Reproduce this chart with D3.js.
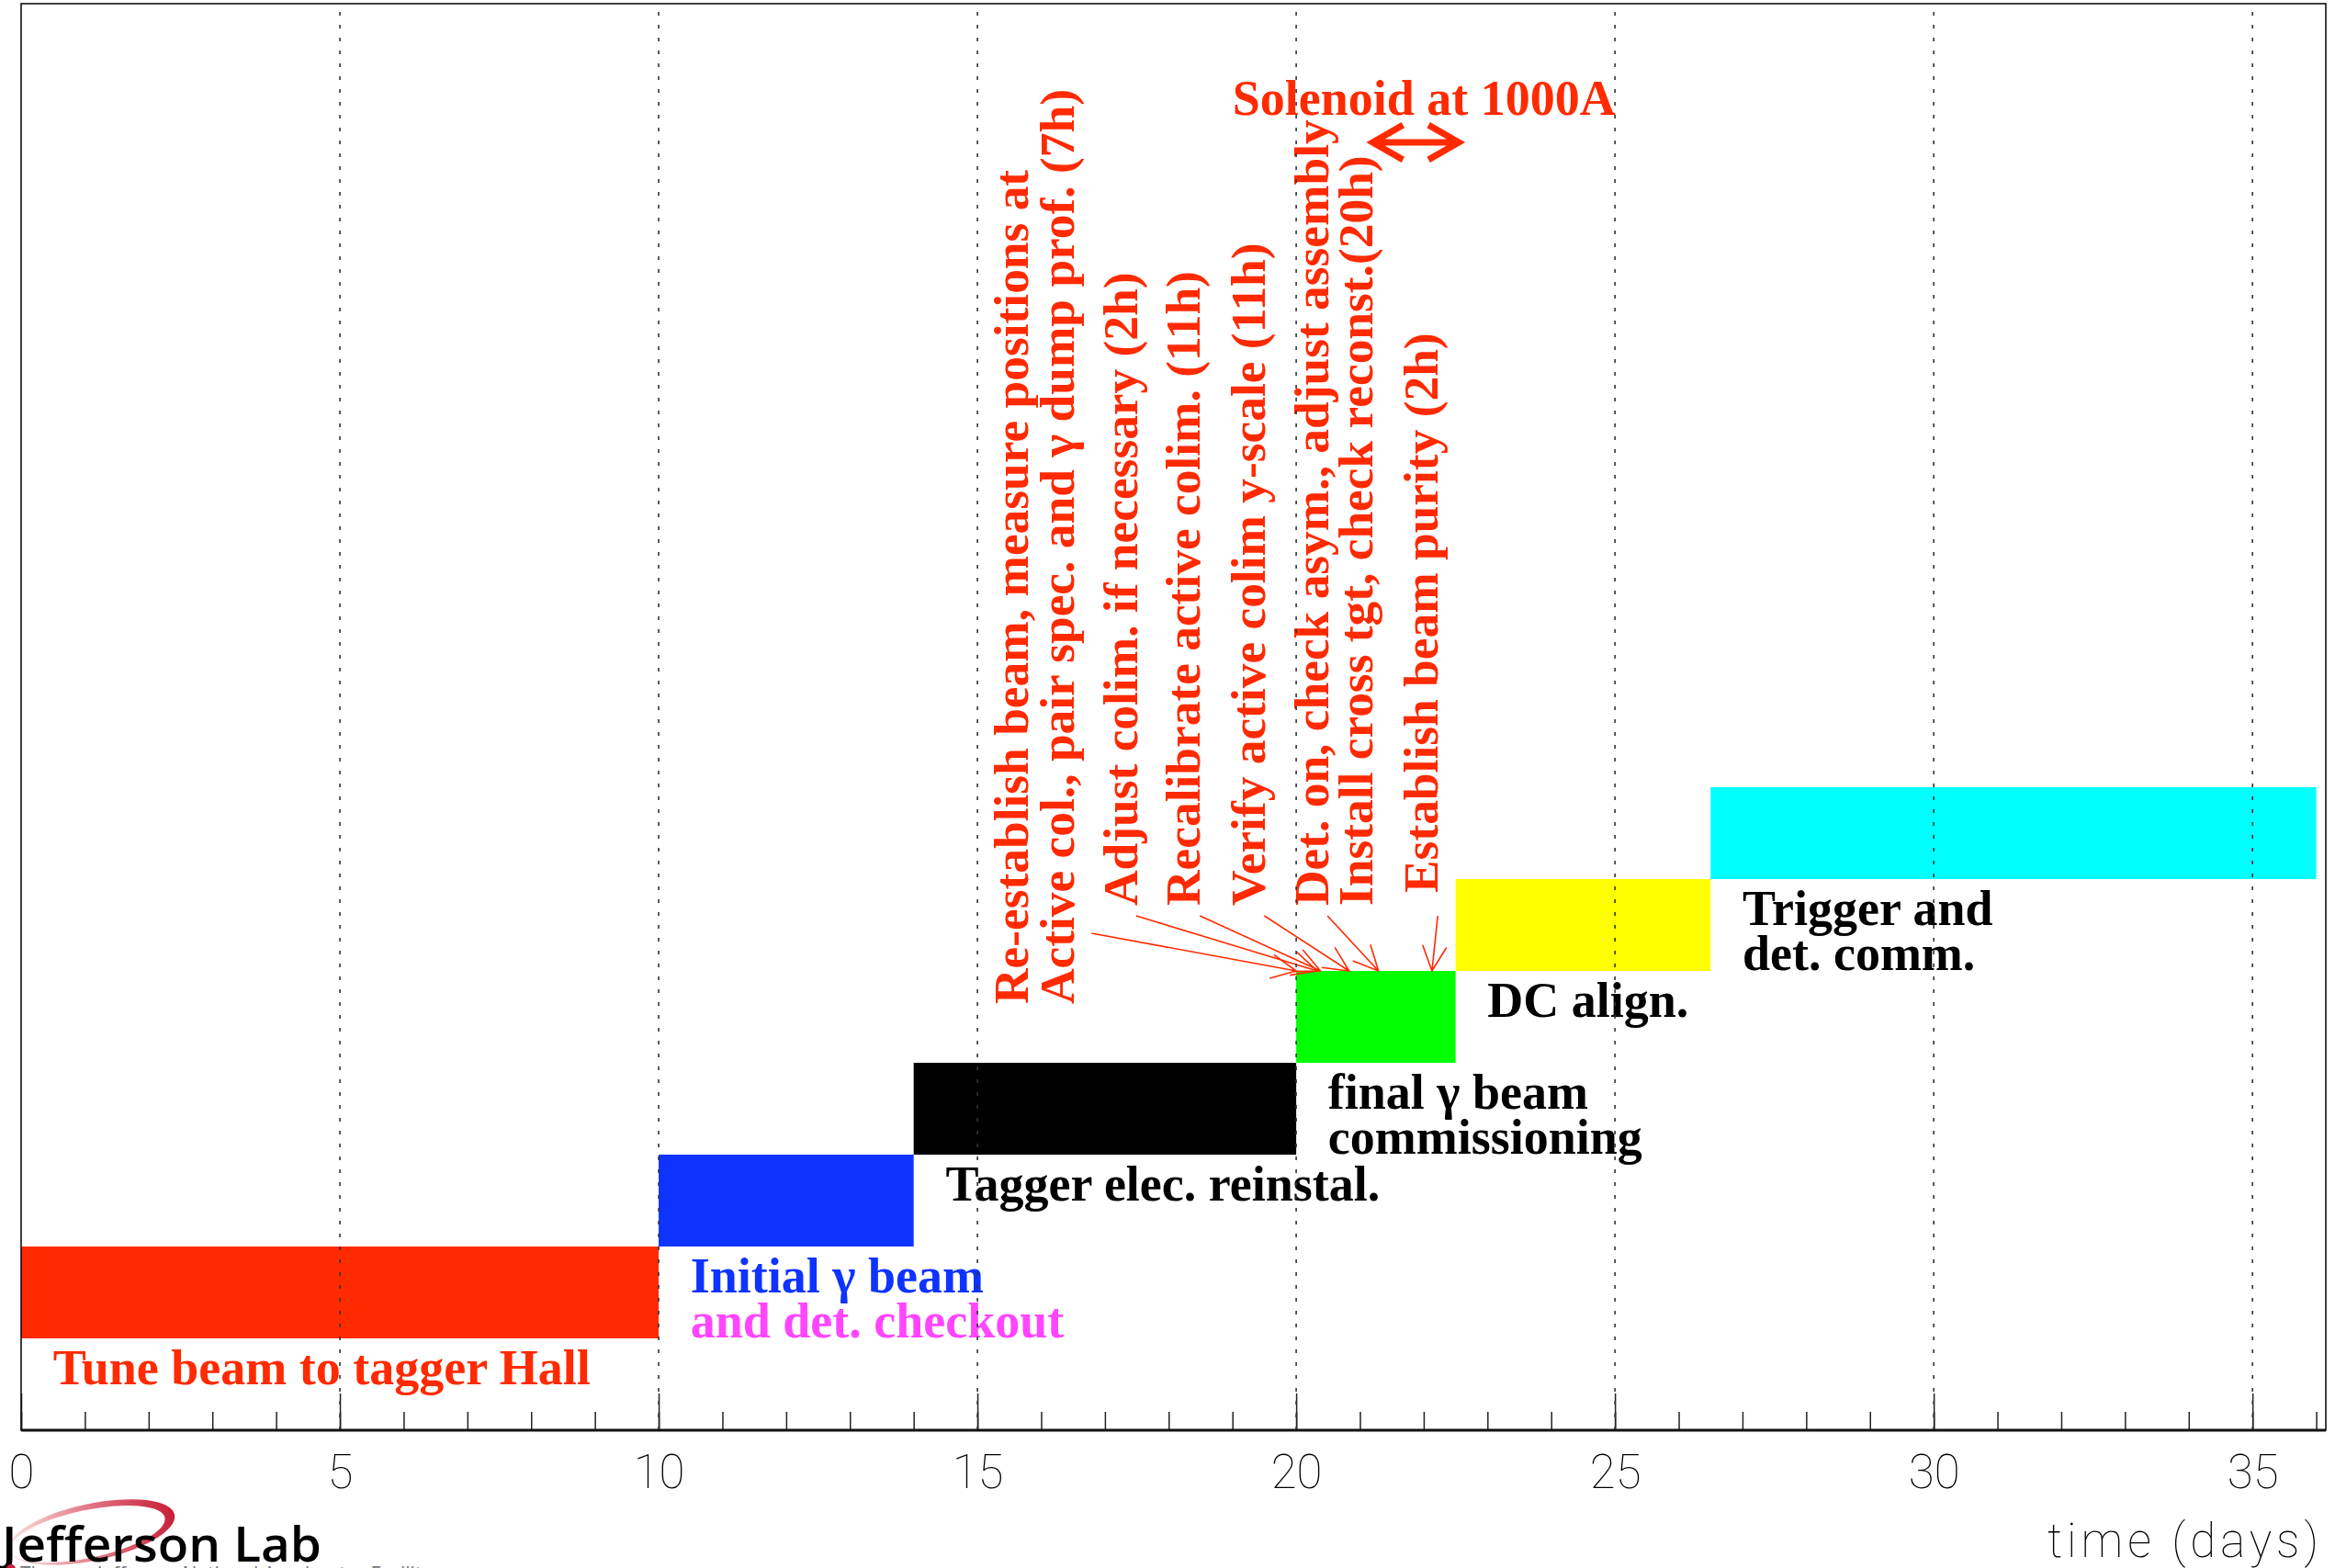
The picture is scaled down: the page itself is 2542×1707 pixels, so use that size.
<!DOCTYPE html>
<html>
<head>
<meta charset="utf-8">
<script src="https://cdn.jsdelivr.net/npm/d3@7"></script>
<style>
  body { margin: 0; background: #fff; }
  svg { display: block; }
</style>
</head>
<body>
<div id="chart"></div>
<script>
// schedule phases (days, row)
const phaseStart = [0, 10, 14, 20, 22.5, 26.5];
const phaseEnd = [10, 14, 20, 22.5, 26.5, 36];
const phaseRow = [1, 2, 3, 4, 5, 6];
const phaseLabels = [
  ["Tune beam to tagger Hall"],
  ["Initial γ beam", "and det. checkout"],
  ["Tagger elec. reinstal."],
  ["final γ beam", "commissioning"],
  ["DC align."],
  ["Trigger and", "det. comm."]
];

// vertical task notes inside the green phase
const taskLines = [
  "Re-establish beam, measure positions at",
  "Active col., pair spec. and γ dump prof. (7h)",
  "Adjust colim. if necessary (2h)",
  "Recalibrate active colim. (11h)",
  "Verify active colim y-scale (11h)",
  "Det. on, check asym., adjust assembly",
  "Install cross tgt, check reconst.(20h)",
  "Establish beam purity (2h)"
];
const taskLineX = [15.79, 16.51, 17.51, 18.49, 19.51, 20.50, 21.20, 22.22];
const taskLineY = [4.64, 4.64, 5.71, 5.71, 5.71, 5.71, 5.71, 5.85];

// arrows from the notes to the green bar
const arrowFromX = [16.79, 17.49, 18.49, 19.50, 20.49, 22.22];
const arrowFromY = [5.41, 5.60, 5.60, 5.60, 5.60, 5.60];
const arrowToX = [20.0, 20.33, 20.38, 20.83, 21.29, 22.13];
const arrowToY = [5, 5, 5, 5, 5, 5];

// solenoid note
const solenoidText = "Solenoid at 1000A";
const solenoidFrom = 21.2;
const solenoidTo = 22.55;

const majorTicks = [0, 5, 10, 15, 20, 25, 30, 35];
const minorTicks = d3.range(0, 37);
const xTitle = "time (days)";

// styles
const RED = "#ff2a00";
const phaseColors = [RED, "#0f33ff", "#000000", "#00ff00", "#ffff00", "#00ffff"];
const labelColors = [[RED], ["#0f33ff", "#ff45ff"], ["#000"], ["#000", "#000"], ["#000"], ["#000", "#000"]];

const W = 2542, H = 1707;
const m = { left: 23, right: 2532, top: 4, bottom: 1557 };

const svg = d3.select("#chart").append("svg")
  .attr("width", W).attr("height", H);
svg.append("rect").attr("width", W).attr("height", H).attr("fill", "#fff");

const x = d3.scaleLinear().domain([0, 36.15]).range([m.left, m.right]);
const y = d3.scaleLinear().domain([0, 15.53]).range([m.bottom, m.top]);

const serif = "'Liberation Serif', 'Times New Roman', serif";
const thin = "Roboto, 'DejaVu Sans', sans-serif";
const fs = "54px";

// bars
svg.append("g").selectAll("rect")
  .data(phaseStart)
  .join("rect")
  .attr("x", (d) => x(d))
  .attr("width", (d, i) => x(phaseEnd[i]) - x(d))
  .attr("y", (d, i) => y(phaseRow[i] + 1))
  .attr("height", (d, i) => y(phaseRow[i]) - y(phaseRow[i] + 1))
  .attr("fill", (d, i) => phaseColors[i]);

// phase labels
const lab = svg.append("g")
  .style("font-family", serif).style("font-weight", "bold").style("font-size", fs);
phaseLabels.forEach((lines, i) => {
  lines.forEach((t, j) => {
    lab.append("text")
      .attr("x", x(phaseStart[i] + 0.5))
      .attr("y", y(phaseRow[i] - 0.5 - 0.49 * j))
      .attr("fill", labelColors[i][j])
      .text(t);
  });
});

// rotated task notes
const notes = svg.append("g")
  .style("font-family", serif).style("font-weight", "bold").style("font-size", "53.4px")
  .attr("fill", RED);
taskLines.forEach((t, i) => {
  notes.append("text")
    .attr("transform", `translate(${x(taskLineX[i])},${y(taskLineY[i])}) rotate(-90)`)
    .text(t);
});

// arrows
const arrowHead = (x1, y1, x2, y2, len, ang) => {
  const a = Math.atan2(y2 - y1, x2 - x1);
  const p1 = [x2 - len * Math.cos(a - ang), y2 - len * Math.sin(a - ang)];
  const p2 = [x2 - len * Math.cos(a + ang), y2 - len * Math.sin(a + ang)];
  return `M${p1[0]},${p1[1]}L${x2},${y2}L${p2[0]},${p2[1]}`;
};
const arr = svg.append("g").attr("stroke", RED).attr("stroke-width", 1.6).attr("fill", "none");
arrowFromX.forEach((fx, i) => {
  const x1 = x(fx), y1 = y(arrowFromY[i]), x2 = x(arrowToX[i]), y2 = y(arrowToY[i]);
  arr.append("path")
    .attr("d", `M${x1},${y1}L${x2},${y2}` + arrowHead(x1, y1, x2, y2, 30, 0.45));
});

// solenoid
svg.append("text")
  .attr("x", x(19.0)).attr("y", y(14.32))
  .style("font-family", serif).style("font-weight", "bold").style("font-size", fs)
  .attr("fill", RED)
  .text(solenoidText);
{
  const x1 = x(solenoidFrom), x2 = x(solenoidTo), yy = y(14.02);
  svg.append("path")
    .attr("d", `M${x1 + 3},${yy}L${x2 - 3},${yy}` + arrowHead(x1, yy, x2, yy, 38, 0.52) + arrowHead(x2, yy, x1, yy, 38, 0.52))
    .attr("stroke", RED).attr("stroke-width", 7).attr("fill", "none")
    .attr("stroke-linejoin", "miter").attr("stroke-miterlimit", 6);
}

// axis: major and minor ticks pointing up
const axMinor = d3.axisBottom(x).tickValues(minorTicks).tickSizeInner(-20).tickSizeOuter(0).tickFormat("");
const axMajor = d3.axisBottom(x).tickValues(majorTicks).tickSizeInner(-40).tickSizeOuter(0).tickPadding(27);
const gMin = svg.append("g").attr("transform", `translate(0,${m.bottom})`).call(axMinor);
gMin.select(".domain").remove();
gMin.selectAll("line").attr("stroke", "#222").attr("stroke-width", 1.5);
const gMaj = svg.append("g").attr("transform", `translate(0,${m.bottom})`).call(axMajor);
gMaj.select(".domain").remove();
gMaj.selectAll("line").attr("stroke", "#222").attr("stroke-width", 1.5);
gMaj.selectAll("text")
  .style("font-family", thin).style("font-weight", 100).style("font-size", "51px")
  .attr("fill", "#000");

// grid lines on top
svg.append("g").selectAll("line")
  .data(majorTicks.filter((d) => d > 0))
  .join("line")
  .attr("x1", (d) => x(d)).attr("x2", (d) => x(d))
  .attr("y1", y(0)).attr("y2", m.top)
  .attr("stroke", "#333").attr("stroke-width", 1.6).attr("stroke-dasharray", "4 10");

// frame
svg.append("rect")
  .attr("x", m.left).attr("y", m.top).attr("width", m.right - m.left).attr("height", m.bottom - m.top)
  .attr("fill", "none").attr("stroke", "#111").attr("stroke-width", 1.6);
svg.append("line")
  .attr("x1", m.left).attr("x2", m.right).attr("y1", m.bottom).attr("y2", m.bottom)
  .attr("stroke", "#111").attr("stroke-width", 3);

// axis title
svg.append("text")
  .attr("x", 2529).attr("y", 1695).attr("text-anchor", "end")
  .style("font-family", thin).style("font-weight", 100).style("font-size", "51px")
  .style("letter-spacing", "5px")
  .text(xTitle);

// lab logo
const defs = svg.append("defs");
const grad = defs.append("linearGradient").attr("id", "swoosh").attr("x1", "0").attr("x2", "1");
grad.append("stop").attr("offset", "0").attr("stop-color", "#fbe6e4");
grad.append("stop").attr("offset", "0.55").attr("stop-color", "#e07080");
grad.append("stop").attr("offset", "1").attr("stop-color", "#c81e38");
const ell = (cx, cy, rx, ry) =>
  `M${cx - rx},${cy}A${rx},${ry} 0 1,0 ${cx + rx},${cy}A${rx},${ry} 0 1,0 ${cx - rx},${cy}Z`;
svg.append("path")
  .attr("d", ell(100, 1668, 92, 31) + ell(95, 1669, 86, 26))
  .attr("fill-rule", "evenodd")
  .attr("fill", "url(#swoosh)")
  .attr("transform", "rotate(-12,100,1668)");
svg.append("text")
  .attr("x", 2).attr("y", 1700)
  .attr("textLength", 348).attr("lengthAdjust", "spacingAndGlyphs")
  .style("font-family", "'Open Sans', sans-serif").style("font-weight", 600).style("font-size", "53px")
  .attr("fill", "#000")
  .text("Jefferson Lab");
svg.append("circle").attr("cx", 12).attr("cy", 1708).attr("r", 5).attr("fill", "#c8203a");
svg.append("text")
  .attr("x", 22).attr("y", 1721)
  .style("font-family", "'Open Sans', sans-serif").style("font-size", "21px")
  .attr("fill", "#777")
  .text("Thomas Jefferson National Accelerator Facility");
</script>
</body>
</html>
